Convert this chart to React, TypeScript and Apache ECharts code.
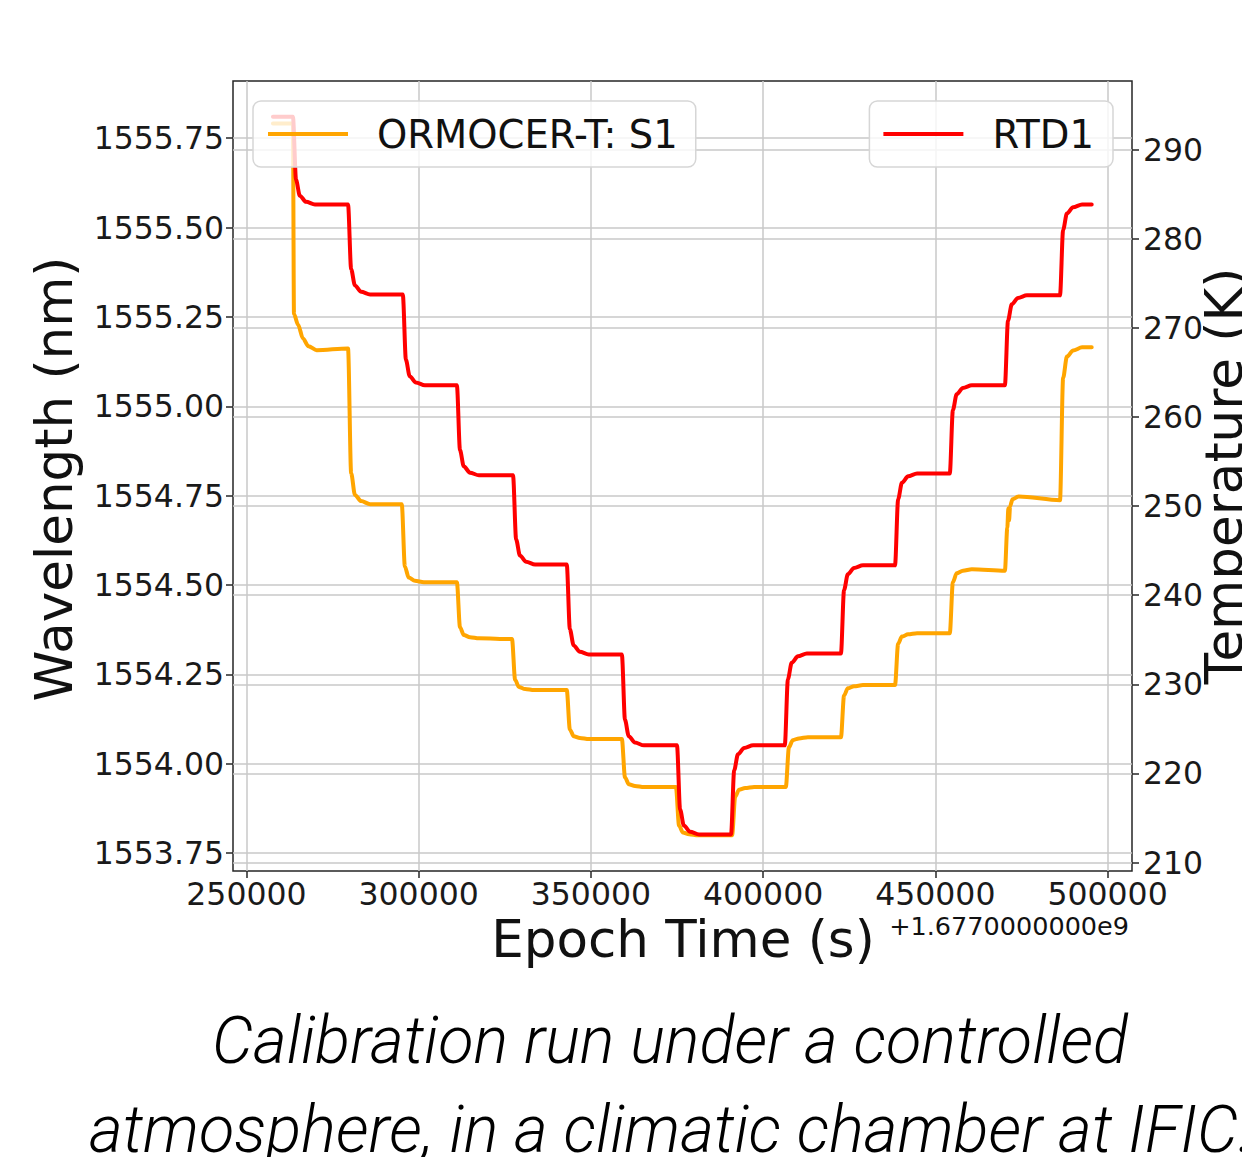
import React, { useEffect, useRef } from "react";
import * as echarts from "echarts";

// Tick positions (epoch seconds are shown relative to the 1.677e9 offset)
const xTicks = [250000, 300000, 350000, 400000, 450000, 500000];
const wavelengthTicks = [1553.75, 1554.0, 1554.25, 1554.5, 1554.75, 1555.0, 1555.25, 1555.5, 1555.75];
const temperatureTicks = [210, 220, 230, 240, 250, 260, 270, 280, 290];

// ORMOCER-T: S1 peak wavelength [time offset (s), wavelength (nm)]
const ormocer: [number, number][] = [
  [257700, 1555.791], [263500, 1555.791],
  [263800, 1555.258], [265000, 1555.228], [266400, 1555.19], [268000, 1555.168], [270400, 1555.157],
  [279500, 1555.162],
  [280400, 1554.813], [281500, 1554.752], [283300, 1554.735], [285900, 1554.726],
  [295100, 1554.726],
  [296000, 1554.552], [297100, 1554.521], [298900, 1554.512], [301500, 1554.508],
  [311100, 1554.508],
  [312000, 1554.382], [313100, 1554.36], [314900, 1554.354], [317500, 1554.351],
  [327100, 1554.349],
  [328000, 1554.235], [329100, 1554.215], [330900, 1554.209], [333500, 1554.206],
  [343000, 1554.206],
  [343900, 1554.096], [345000, 1554.077], [346800, 1554.072], [349400, 1554.069],
  [359000, 1554.069],
  [359900, 1553.962], [361000, 1553.943], [362800, 1553.938], [365400, 1553.935],
  [374700, 1553.935],
  [375600, 1553.827], [376700, 1553.808], [378500, 1553.803], [381100, 1553.8],
  [391000, 1553.8],
  [391900, 1553.908], [393000, 1553.927], [394800, 1553.932], [397400, 1553.935],
  [406600, 1553.935],
  [407500, 1554.046], [408600, 1554.066], [410400, 1554.071], [413000, 1554.074],
  [422600, 1554.074],
  [423500, 1554.191], [424600, 1554.211], [426400, 1554.217], [429000, 1554.22],
  [438300, 1554.22],
  [439200, 1554.336], [440300, 1554.356], [442100, 1554.362], [444700, 1554.365],
  [454200, 1554.365],
  [455100, 1554.508], [456200, 1554.533], [458000, 1554.54], [460600, 1554.544],
  [470200, 1554.54],
  [470900, 1554.66], [471200, 1554.715], [471400, 1554.68], [471700, 1554.72],
  [472400, 1554.74], [474200, 1554.748],
  [486200, 1554.737],
  [487100, 1555.079], [488200, 1555.139], [490000, 1555.156], [492600, 1555.165],
  [495400, 1555.165],
];

// RTD1 chamber temperature [time offset (s), temperature (K)]
const rtd1: [number, number][] = [
  [257700, 293.7], [263500, 293.7],
  [264400, 286.61], [265500, 284.83], [267300, 284.15], [269900, 283.85],
  [279500, 283.85],
  [280400, 276.58], [281500, 274.76], [283300, 274.05], [285900, 273.75],
  [295400, 273.75],
  [296300, 266.41], [297400, 264.57], [299200, 263.86], [301800, 263.55],
  [311100, 263.55],
  [312000, 256.28], [313100, 254.46], [314900, 253.75], [317500, 253.45],
  [327400, 253.45],
  [328300, 246.25], [329400, 244.45], [331200, 243.75], [333800, 243.45],
  [343000, 243.45],
  [343900, 236.18], [345000, 234.36], [346800, 233.65], [349400, 233.35],
  [359000, 233.35],
  [359900, 226.01], [361000, 224.17], [362800, 223.46], [365400, 223.15],
  [375000, 223.15],
  [375900, 215.95], [377000, 214.15], [378800, 213.45], [381400, 213.15],
  [390700, 213.15],
  [391600, 220.35], [392700, 222.15], [394500, 222.85], [397100, 223.15],
  [406300, 223.15],
  [407200, 230.57], [408300, 232.42], [410100, 233.14], [412700, 233.45],
  [422600, 233.45],
  [423500, 240.58], [424600, 242.36], [426400, 243.05], [429000, 243.35],
  [438300, 243.35],
  [439200, 250.77], [440300, 252.62], [442100, 253.34], [444700, 253.65],
  [454200, 253.65],
  [455100, 260.78], [456200, 262.56], [458000, 263.25], [460600, 263.55],
  [470200, 263.55],
  [471100, 270.82], [472200, 272.64], [474000, 273.35], [476600, 273.65],
  [486200, 273.65],
  [487100, 280.99], [488200, 282.83], [490000, 283.54], [492600, 283.85],
  [495400, 283.85],
];

const FONT = "'DejaVu Sans', Verdana, sans-serif";
const CAPTION_FONT = "Roboto, 'Liberation Sans', sans-serif";
const INK = "#262626";
const GRID = "#c9c9c9";

export default function App() {
  const ref = useRef<HTMLDivElement>(null);

  useEffect(() => {
    document.body.style.margin = "0";
    const chart = echarts.init(ref.current!, undefined, { renderer: "svg" });

    const tick = { show: true, length: 7, lineStyle: { color: INK, width: 1.5 } };
    const split = { show: true, lineStyle: { color: GRID, width: 1.5 } };
    const labelBase = { fontFamily: FONT, fontSize: 31.5, lineHeight: 30, color: "#1a1a1a" };

    const legendBase = {
      orient: "horizontal",
      top: 101,
      itemWidth: 80,
      itemHeight: 4,
      icon: "rect",
      backgroundColor: "rgba(255,255,255,0.8)",
      borderColor: "#d6d6d6",
      borderWidth: 1.5,
      borderRadius: 8,
      selectedMode: false,
      textStyle: {
        fontFamily: FONT,
        fontSize: 38.5,
        color: "#111",
        lineHeight: 40,
        padding: [0, 0, 0, 24],
      },
    };

    const lineCommon = {
      type: "line",
      xAxisIndex: 0,
      symbol: "none",
      smooth: 0.3,
      smoothMonotone: "x",
    };

    chart.setOption({
      animation: false,
      backgroundColor: "#ffffff",
      grid: {
        left: 233,
        right: 110,
        top: 81,
        bottom: 286,
        show: true,
        borderColor: INK,
        borderWidth: 1.5,
        backgroundColor: "transparent",
      },
      legend: [
        {
          ...legendBase,
          left: 253,
          padding: [13, 18, 13, 15],
          data: ["ORMOCER-T: S1"],
        },
        {
          ...legendBase,
          right: 129,
          padding: [13, 19, 13, 14],
          data: ["RTD1"],
        },
      ],
      xAxis: {
        type: "value",
        min: 246100,
        max: 507100,
        axisLine: { show: false },
        axisTick: { ...tick, customValues: xTicks },
        axisLabel: {
          ...labelBase,
          margin: 8,
          customValues: xTicks,
          formatter: (v: number) => String(Math.round(v)),
        },
        splitLine: split,
      },
      yAxis: [
        {
          type: "value",
          position: "left",
          min: 1553.7,
          max: 1555.91,
          axisLine: { show: false },
          axisTick: { ...tick, customValues: wavelengthTicks },
          axisLabel: {
            ...labelBase,
            margin: 9,
            customValues: wavelengthTicks,
            formatter: (v: number) => v.toFixed(2),
          },
          splitLine: split,
        },
        {
          type: "value",
          position: "right",
          min: 209.05,
          max: 297.7,
          axisLine: { show: false },
          axisTick: { ...tick, customValues: temperatureTicks },
          axisLabel: {
            ...labelBase,
            margin: 11,
            customValues: temperatureTicks,
            formatter: (v: number) => String(Math.round(v)),
          },
          splitLine: split,
        },
      ],
      series: [
        {
          ...lineCommon,
          name: "ORMOCER-T: S1",
          yAxisIndex: 0,
          data: ormocer,
          z: 2,
          itemStyle: { color: "#FFA500" },
          lineStyle: { color: "#FFA500", width: 4, join: "round", cap: "round" },
        },
        {
          ...lineCommon,
          name: "RTD1",
          yAxisIndex: 1,
          data: rtd1,
          z: 3,
          itemStyle: { color: "#FF0000" },
          lineStyle: { color: "#FF0000", width: 4, join: "round", cap: "round" },
        },
      ],
      graphic: [
        {
          type: "text",
          x: 54,
          y: 479,
          rotation: Math.PI / 2,
          style: {
            text: "Wavelength (nm)",
            fontFamily: FONT,
            fontSize: 51.5,
            lineHeight: 44,
            fill: "#111",
            align: "center",
            verticalAlign: "middle",
          },
        },
        {
          type: "text",
          x: 1224,
          y: 476,
          rotation: Math.PI / 2,
          style: {
            text: "Temperature (K)",
            fontFamily: FONT,
            fontSize: 51.5,
            lineHeight: 44,
            fill: "#111",
            align: "center",
            verticalAlign: "middle",
          },
        },
        {
          type: "text",
          x: 683,
          y: 939,
          style: {
            text: "Epoch Time (s)",
            fontFamily: FONT,
            fontSize: 51.5,
            lineHeight: 42,
            fill: "#111",
            align: "center",
            verticalAlign: "middle",
          },
        },
        {
          type: "text",
          x: 1129,
          y: 926,
          style: {
            text: "+1.6770000000e9",
            fontFamily: FONT,
            fontSize: 25.5,
            lineHeight: 24,
            fill: "#111",
            align: "right",
            verticalAlign: "middle",
          },
        },
        {
          type: "text",
          x: 212,
          y: 1040,
          scaleX: 0.985,
          style: {
            text: "Calibration run under a controlled",
            fontFamily: CAPTION_FONT,
            fontSize: 66,
            fontStyle: "italic",
            fontWeight: 300,
            fill: "#000",
            align: "left",
            verticalAlign: "middle",
          },
        },
        {
          type: "text",
          x: 89,
          y: 1129,
          scaleX: 0.985,
          style: {
            text: "atmosphere, in a climatic chamber at IFIC.",
            fontFamily: CAPTION_FONT,
            fontSize: 66,
            fontStyle: "italic",
            fontWeight: 300,
            fill: "#000",
            align: "left",
            verticalAlign: "middle",
          },
        },
      ],
    });

    return () => chart.dispose();
  }, []);

  return <div ref={ref} style={{ width: 1242, height: 1157 }} />;
}
